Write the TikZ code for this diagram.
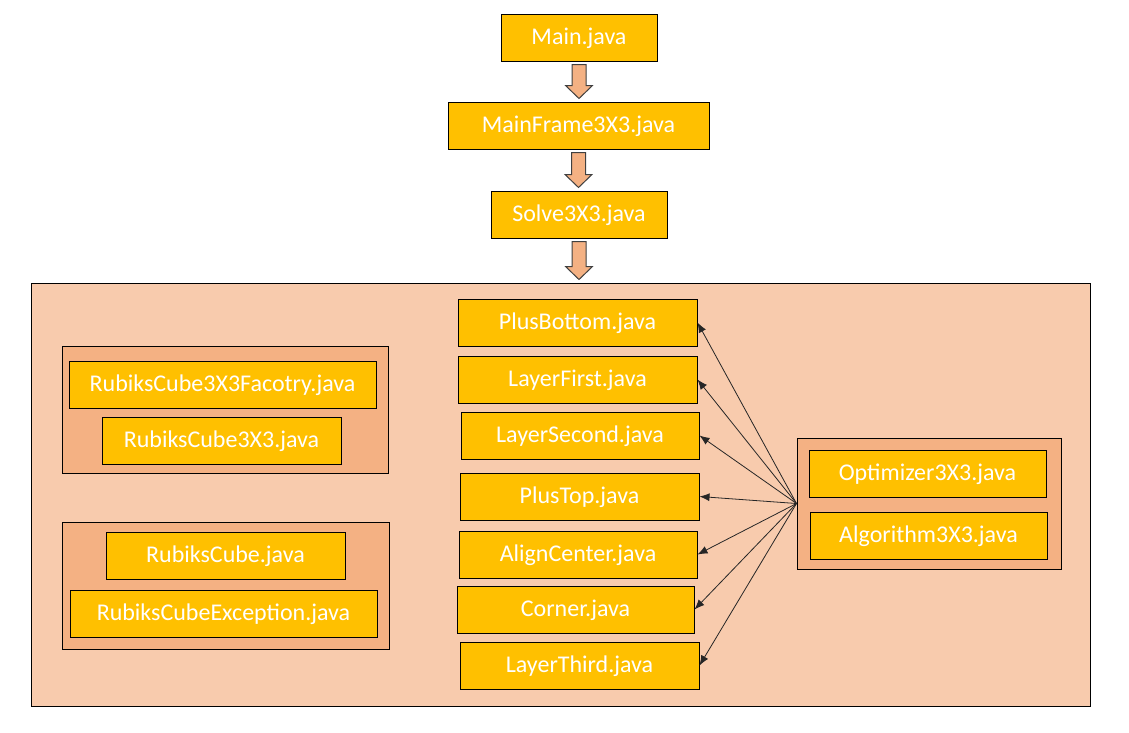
\documentclass[tikz,border=0pt]{standalone}
\usepackage{fontspec}
\setmainfont{Carlito}
\usetikzlibrary{calc,arrows.meta}
\definecolor{gold}{HTML}{FFC000}
\definecolor{peachlight}{HTML}{F8CBAD}
\definecolor{peach}{HTML}{F4B183}
\tikzset{
  file/.style={draw=black, line width=1pt, fill=gold, text=white, inner sep=0pt,
    minimum height=47, font=\fontsize{24}{28}\selectfont,
    text height=17pt, text depth=4pt},
  grp/.style={draw=black, line width=1pt, fill=peach, inner sep=0pt},
  outer/.style={draw=black, line width=1pt, fill=peachlight, inner sep=0pt},
  blockarrow/.style={draw=black!75, line width=1pt, fill=peach, line join=miter},
  link/.style={draw=black!85, line width=0.8pt, -{Latex[length=10pt,width=8pt]}},
}
\newcommand\blockarr[2]{%
  \path[blockarrow]
    ($(#1.south)+(-7,3)$) -- ($(#1.south)+(7,3)$) --
    ($(#1.south |- #2.north)+(7,-16)$) -- ($(#1.south |- #2.north)+(13.5,-16)$) --
    ($(#1.south |- #2.north)+(0,-3)$) --
    ($(#1.south |- #2.north)+(-13.5,-16)$) -- ($(#1.south |- #2.north)+(-7,-16)$) -- cycle;}
\begin{document}
\begin{tikzpicture}[x=1pt,y=-1pt]
\useasboundingbox (0,0) rectangle (1129,732);
% top chain
\node[file, minimum width=156] (main) at (579,37.5) {Main.java};
\node[file, minimum width=261] (frame) at (578.5,125.5) {MainFrame3X3.java};
\node[file, minimum width=176] (solve) at (579,214.5) {Solve3X3.java};
% outer box
\node[outer, minimum width=1059, minimum height=423] (big) at (560.5,494.5) {};
\blockarr{main}{frame}
\blockarr{frame}{solve}
\blockarr{solve}{big}
% left groups
\node[grp, minimum width=326, minimum height=127] (g1) at (225,409.5) {};
\node[file, minimum width=307] (fac) at (222.5,384.5) {RubiksCube3X3Facotry.java};
\node[file, minimum width=239] (rc33) at (221.5,440.5) {RubiksCube3X3.java};
\node[grp, minimum width=327, minimum height=127] (g2) at (225.5,585.5) {};
\node[file, minimum width=239] (rc) at (225.5,555.5) {RubiksCube.java};
\node[file, minimum width=307] (rce) at (223.5,613.5) {RubiksCubeException.java};
% middle column
\node[file, minimum width=239] (pb) at (577.5,322.5) {PlusBottom.java};
\node[file, minimum width=239] (lf) at (577.5,379.5) {LayerFirst.java};
\node[file, minimum width=238] (ls) at (580,435.5) {LayerSecond.java};
\node[file, minimum width=239] (pt) at (579.5,496.5) {PlusTop.java};
\node[file, minimum width=238] (ac) at (578,554.5) {AlignCenter.java};
\node[file, minimum width=237] (co) at (575.5,609.5) {Corner.java};
\node[file, minimum width=239] (lt) at (579.5,665.5) {LayerThird.java};
% right group
\node[grp, minimum width=264, minimum height=131] (g3) at (929,503.5) {};
\node[file, minimum width=237] (opt) at (927.5,473.5) {Optimizer3X3.java};
\node[file, minimum width=237] (alg) at (928.5,535.5) {Algorithm3X3.java};
\coordinate (hub) at (g3.west);
% links
\foreach \t in {pb,lf,ls,pt,ac,co,lt}{
  \draw[link] (hub) -- (\t.east);
}
\end{tikzpicture}
\end{document}
